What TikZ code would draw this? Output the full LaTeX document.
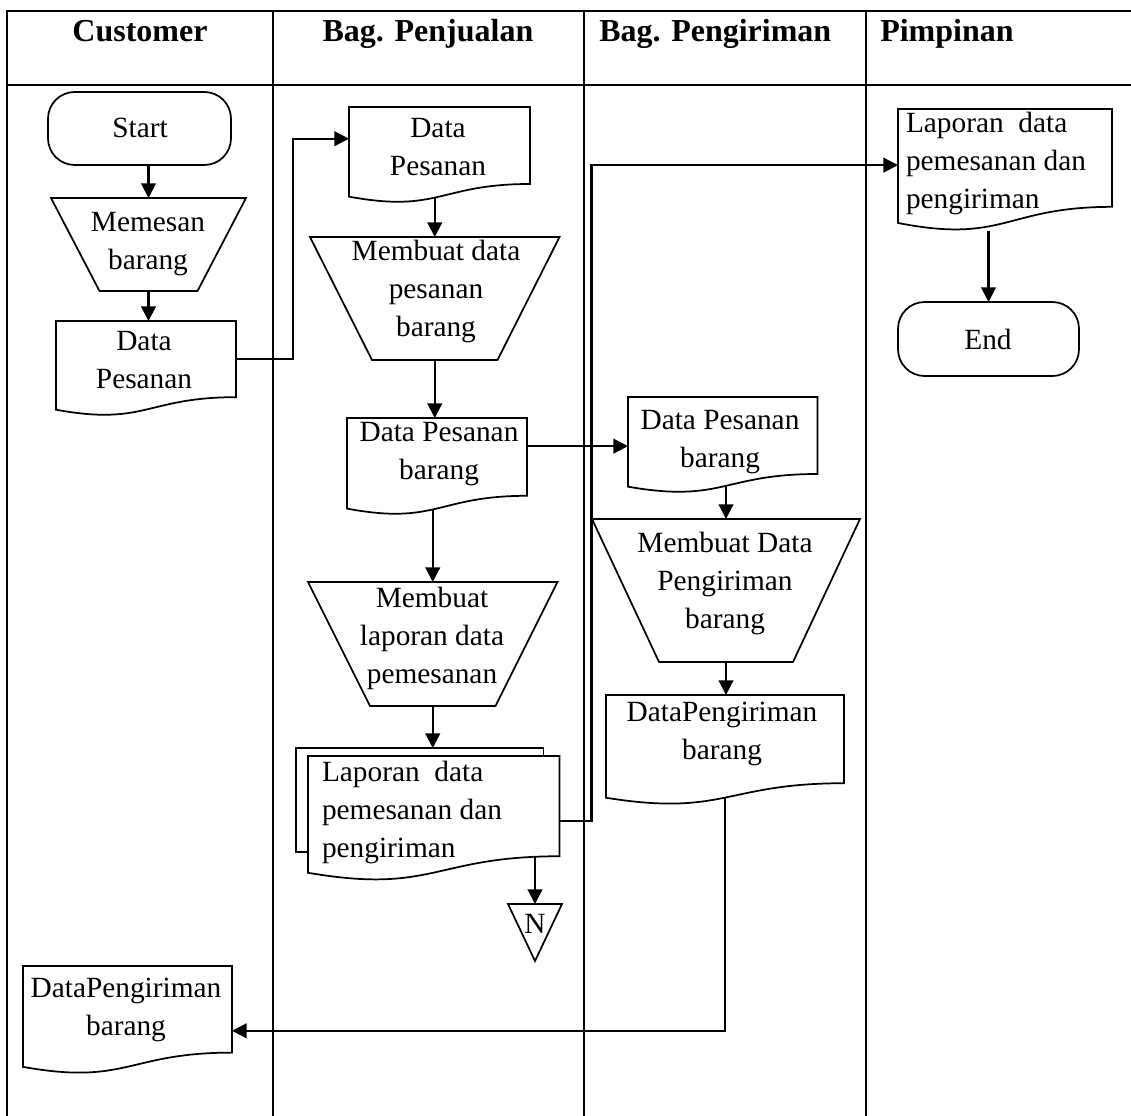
\documentclass[tikz,border=0pt]{standalone}
\usepackage{fontspec}
\setmainfont{Liberation Serif}
\usetikzlibrary{arrows.meta,calc,fit}

\tikzset{
  holder/.style={inner sep=0pt, outer sep=0pt, draw=none},
  shp/.style={line width=1.3pt, line join=miter},
  lane/.style={line width=1.9pt},
  con/.style={line width=1.6pt},
  arr/.style={con, -{Triangle[length=11pt,width=11pt]}},
  lbl/.style={inner sep=0pt, outer sep=0pt, align=center, font=\fontsize{22}{28.5}\selectfont},
  lbll/.style={lbl, align=left, anchor=west},
  head/.style={inner sep=0pt, anchor=base, font=\fontsize{24}{28}\selectfont\bfseries},
  term/.style={holder, draw, shp, rounded corners=20pt}
}

% document symbol: name, left x, right x, top y, height
\newcommand\docshape[5]{%
  \node[holder, fit={(#2,#4) (#3,{#4+#5})}] (#1) {};
  \coordinate (#1-w) at ({(#2+#3)/2},{#4+0.933*#5});
  \draw[shp] (#1.north west) -- (#1.north east)
    -- ($(#1.north east)!0.802!(#1.south east)$)
    .. controls ($(#1.north)!0.802!(#1.south)$) and ($(#1.north)!1.107!(#1.south)$)
    .. ($(#1.north west)!0.934!(#1.south west)$) -- cycle;
}
% manual operation symbol: name, left x, right x, top y, bottom y, inset
\newcommand\manualop[6]{%
  \node[holder, fit={(#2,#4) (#3,#5)}] (#1) {};
  \draw[shp] (#2,#4) -- (#3,#4) -- ({#3-#6},#5) -- ({#2+#6},#5) -- cycle;
}

\begin{document}
\begin{tikzpicture}[x=0.75pt,y=-0.75pt]
\useasboundingbox (0,0) rectangle (1131,1116);

% swimlane grid
\draw[lane] (1140,11) -- (7,11) -- (7,1125);
\draw[lane] (7,85) -- (1140,85);
\draw[lane] (273,11) -- (273,1125);
\draw[lane] (584,11) -- (584,1125);
\draw[lane] (866,11) -- (866,1125);

% lane headings
\node[head] (h1) at (140,42) {Customer};
\node[head] (h2) at (428,42) {Bag. Penjualan};
\node[head, anchor=base west] (h3) at (599,42) {Bag. Pengiriman};
\node[head, anchor=base west] (h4) at (880,42) {Pimpinan};

% Customer
\node[term, fit={(48,92) (231,165)}] (start) {};
\node[lbl] (start-t) at (140,128) {Start};
\manualop{mem}{51}{246}{198}{291}{48.5}
\node[lbl] (mem-t) at (148,244) {Memesan\\barang};
\docshape{cdp}{56}{236}{321}{95}
\node[lbl] (cdp-t) at (144,360) {Data\\Pesanan};
\docshape{cdpg}{23}{232}{966}{108}
\node[lbl] (cdpg-t) at (126,1010) {DataPengiriman\\barang};

% Bag. Penjualan
\docshape{pdp}{349}{530}{107}{96}
\node[lbl] (pdp-t) at (438,147) {Data\\Pesanan};
\manualop{mdp}{310}{559.5}{237}{360}{62}
\node[lbl] (mdp-t) at (436,291) {Membuat data\\pesanan\\barang};
\docshape{pdpb}{347}{527}{418}{97}
\node[lbl] (pdpb-t) at (439,454) {Data Pesanan\\barang};
\manualop{mlp}{308}{557.5}{582}{706}{62}
\node[lbl] (mlp-t) at (432,638) {Membuat\\laporan data\\pemesanan};
\node[holder, fit={(296,748) (559.5,881)}] (laps) {};
\draw[shp] (308,852) -- (296,852) -- (296,748) -- (543.5,748) -- (543.5,756);
\docshape{lap}{308}{559.5}{756}{125}
\node[lbll] (lap-t) at (322,812) {Laporan\ \ data\\pemesanan dan\\pengiriman};
\node[holder, fit={(508,904) (562,961)}] (nc) {};
\draw[shp] (nc.north west) -- (nc.north east) -- (nc.south) -- cycle;
\node[lbl] (nc-t) at (535,924) {N};

% Bag. Pengiriman
\docshape{gdpb}{628}{817.5}{397}{96}
\node[lbl] (gdpb-t) at (720,442) {Data Pesanan\\barang};
\manualop{mdg}{592}{860}{519}{662}{67}
\node[lbl] (mdg-t) at (725,583) {Membuat Data\\Pengiriman\\barang};
\docshape{gdpg}{606}{844}{695}{110}
\node[lbl] (gdpg-t) at (722,734) {DataPengiriman\\barang};

% Pimpinan
\docshape{klap}{898}{1112}{109}{122}
\node[lbll] (klap-t) at (906,163) {Laporan\ \ data\\pemesanan dan\\pengiriman};
\node[term, fit={(898,302) (1079,376)}] (end) {};
\node[lbl] (end-t) at (988,339) {End};

% flow
\coordinate (cdp-r) at ($(cdp.north east)!0.4!(cdp.south east)$);
\coordinate (pdp-l) at ($(pdp.north west)!0.33!(pdp.south west)$);
\coordinate (pdpb-r) at ($(pdpb.north east)!0.29!(pdpb.south east)$);
\coordinate (lap-r) at ($(lap.north east)!0.52!(lap.south east)$);
\coordinate (lap-b) at ($(lap.north east)!0.8!(lap.south east)$);
\coordinate (klap-l) at ($(klap.north west)!0.46!(klap.south west)$);
\coordinate (cdpg-r) at ($(cdpg.north east)!0.6!(cdpg.south east)$);

\draw[arr] (mem.north |- start.south) -- (mem.north);
\draw[arr] (mem.south) -- (mem.south |- cdp.north);
\draw[arr] (cdp-r) -- ++(57,0) |- (pdp-l);
\draw[arr] (mdp.north |- pdp-w) -- (mdp.north);
\draw[arr] (mdp.south) -- (mdp.south |- pdpb.north);
\draw[arr] (pdpb-r) -- (pdpb-r -| gdpb.west);
\draw[arr] (mlp.north |- pdpb-w) -- (mlp.north);
\draw[arr] (mlp.south) -- (mlp.south |- laps.north);
\draw[arr] (lap-r) -- ++(32,0) |- (klap-l);
\draw[arr] (nc.north |- lap-b) -- (nc.north);
\draw[arr] (mdg.north |- gdpb-w) -- (mdg.north);
\draw[arr] (mdg.south) -- (mdg.south |- gdpg.north);
\draw[arr] (gdpg-w) |- (cdpg-r);
\draw[arr] (end.north |- klap.south) -- (end.north);
\end{tikzpicture}
\end{document}
